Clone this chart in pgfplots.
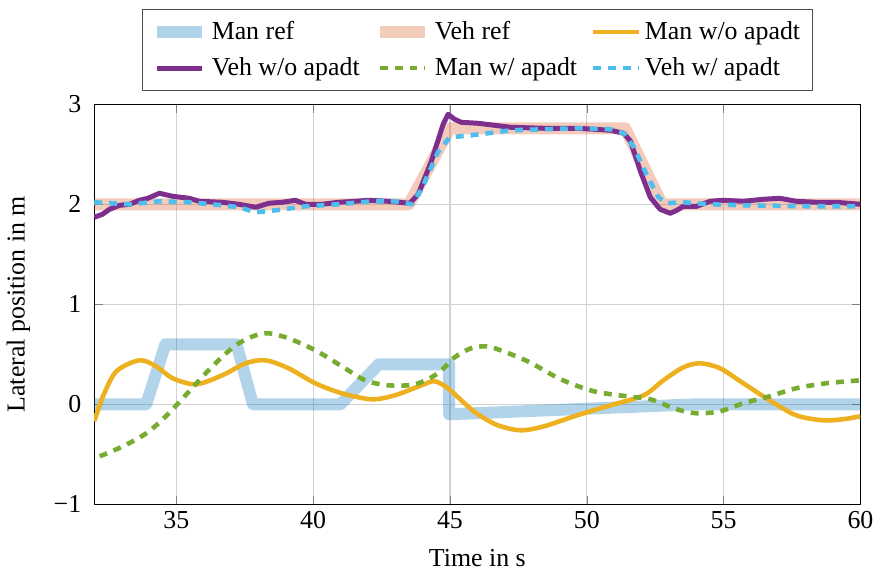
\documentclass[border=0pt]{standalone}
\usepackage{pgfplots}
\pgfplotsset{compat=1.18}
\usepackage{fontspec}
\setmainfont{Liberation Serif}
\definecolor{mblue}{RGB}{0,114,189}
\definecolor{morange}{RGB}{217,83,25}
\definecolor{myellow}{RGB}{237,177,32}
\definecolor{mpurple}{RGB}{126,47,142}
\definecolor{mgreen}{RGB}{119,172,48}
\definecolor{mcyan}{RGB}{77,190,238}
\newcommand{\myfont}{\fontsize{13}{15.5}\selectfont}
\begin{document}
\begin{tikzpicture}
\begin{axis}[
  scale only axis, width=385pt, height=201pt,
  xmin=32, xmax=60, ymin=-1, ymax=3,
  xtick={35,40,45,50,55,60},
  xticklabels={35,40,45,50,55,60},
  ytick={-1,0,1,2,3},
  yticklabels={−1,0,1,2,3},
  /pgf/number format/assume math mode=true,
  grid=major, major grid style={gray!35, line width=0.6pt},
  xlabel={Time in s}, ylabel={Lateral position in m},
  xlabel shift=3.5pt, ylabel shift=5pt,
  yticklabel style={xshift=-3pt},
  tick label style={font=\myfont}, label style={font=\myfont},
  legend style={at={(0.5,1.033)}, anchor=south, legend columns=3, font=\myfont,
    /tikz/every even column/.append style={column sep=5pt},
    row sep=3.5pt, draw=black!70, line width=0.6pt, inner xsep=4pt, inner ysep=4pt},
  legend image code/.code={\draw[#1] (0cm,0cm) -- (0.8cm,0cm);},
  legend cell align=left,
  line join=round,
]
\addplot[mblue, opacity=0.3, line width=6pt] coordinates {
(32,0) (33.9,0) (34.6,0.6) (37.2,0.6) (37.8,0) (41.0,0) (42.4,0.4) (44.97,0.4) (44.97,-0.1) (54,0) (60,0)};
\addlegendentry{Man ref}
\addplot[morange, opacity=0.3, line width=6pt] coordinates {
(32,2) (43.5,2) (45.0,2.76) (51.4,2.76) (52.75,2) (60,2)};
\addlegendentry{Veh ref}
\addplot[myellow, line width=2.3pt, smooth] coordinates {
(32,-0.17) (32.32,0.08) (32.81,0.33) (33.65,0.44) (34.26,0.38) (34.87,0.26) (35.72,0.20) (36.68,0.29) (37.53,0.41) (38.26,0.44) (39.1,0.36) (40.08,0.21) (41.05,0.11) (42.14,0.05) (42.99,0.09) (43.96,0.19) (44.44,0.23) (44.93,0.16) (45.53,0.01) (46.02,-0.10) (46.75,-0.21) (47.59,-0.26) (48.44,-0.22) (49.65,-0.11) (50.87,-0.01) (52.08,0.09) (52.8,0.24) (53.53,0.37) (54.14,0.41) (54.87,0.36) (55.72,0.21) (56.68,0.04) (57.65,-0.11) (58.62,-0.16) (59.35,-0.15) (60,-0.12)};
\addlegendentry{Man w/o apadt}
\addplot[mpurple, line width=2.5pt] coordinates {
(32,1.87) (32.3,1.90) (32.56,1.95) (32.93,1.99) (33.29,2.00) (33.65,2.04) (33.96,2.06) (34.38,2.11) (34.87,2.08) (35.47,2.06) (35.84,2.03) (36.68,2.02) (37.29,2.00) (37.9,1.97) (38.38,2.01) (38.87,2.02) (39.35,2.04) (39.72,2.00) (40.32,2.00) (40.93,2.02) (41.53,2.03) (42.02,2.04) (42.75,2.03) (43.53,2.01) (43.84,2.10) (44.32,2.43) (44.75,2.80) (44.93,2.90) (45.17,2.85) (45.41,2.82) (46.02,2.81) (47.23,2.77) (48.44,2.76) (49.65,2.76) (50.87,2.74) (51.35,2.71) (51.6,2.63) (51.96,2.33) (52.32,2.07) (52.68,1.95) (53.05,1.91) (53.29,1.94) (53.53,1.98) (54.02,1.98) (54.5,2.03) (54.99,2.04) (55.72,2.03) (56.44,2.05) (57.05,2.06) (57.65,2.03) (58.38,2.02) (59.1,2.02) (60,2.00)};
\addlegendentry{Veh w/o apadt}
\addplot[mgreen, line width=2.3pt, dash pattern=on 4pt off 3.5pt, smooth] coordinates {
(32.2,-0.52) (33.05,-0.42) (33.9,-0.29) (34.62,-0.12) (35.47,0.13) (36.32,0.38) (37.17,0.59) (37.9,0.69) (38.38,0.71) (39.1,0.66) (40.08,0.54) (41.05,0.38) (41.9,0.24) (42.75,0.19) (43.72,0.20) (44.56,0.31) (45.17,0.47) (45.77,0.56) (46.3,0.58) (46.75,0.55) (47.84,0.43) (49.05,0.25) (50.26,0.13) (51.47,0.08) (52.32,0.05) (53.29,-0.05) (54.02,-0.09) (54.87,-0.07) (55.72,0.01) (56.68,0.08) (57.65,0.16) (58.74,0.21) (60,0.24)};
\addlegendentry{Man w/ apadt}
\addplot[mcyan, line width=2.3pt, dash pattern=on 4pt off 3.5pt] coordinates {
(32,2.02) (33.29,2.00) (34.38,2.03) (35.47,2.02) (36.68,1.99) (37.29,1.97) (37.9,1.92) (38.62,1.94) (39.72,1.98) (40.93,2.00) (42.14,2.03) (42.99,2.03) (43.6,2.00) (43.96,2.15) (44.56,2.52) (44.99,2.67) (45.77,2.69) (46.38,2.71) (47.23,2.74) (48.44,2.75) (49.65,2.76) (50.87,2.75) (51.35,2.71) (51.72,2.57) (52.2,2.29) (52.62,2.07) (52.93,2.01) (53.53,2.02) (54.5,2.00) (55.72,1.99) (58.14,1.98) (60,1.98)};
\addlegendentry{Veh w/ apadt}
\end{axis}
\path ([yshift=4.5pt]current bounding box.north);
\end{tikzpicture}
\end{document}
